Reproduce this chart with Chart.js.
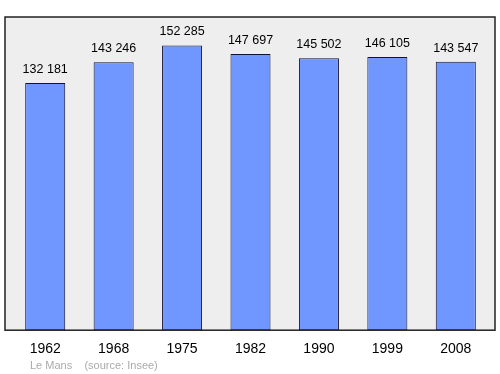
<!DOCTYPE html>
<html>
<head>
<meta charset="utf-8">
<script src="https://cdn.jsdelivr.net/npm/chart.js@4/dist/chart.umd.min.js"></script>
<style>
  html, body { margin: 0; padding: 0; background: #fff; }
  #wrap { width: 500px; height: 374px; position: relative; }
</style>
</head>
<body>
<div id="wrap"><canvas id="chart" width="500" height="374"></canvas></div>
<script>
const years = ['1962', '1968', '1975', '1982', '1990', '1999', '2008'];
const population = [132181, 143246, 152285, 147697, 145502, 146105, 143547];
const footnote = 'Le Mans    (source: Insee)';

function fmt(n) {
  return String(n).replace(/\B(?=(\d{3})+(?!\d))/g, ' ');
}

// frame around the plot, a bit wider than the category area
const boxPlugin = {
  id: 'box',
  beforeDraw(chart) {
    const c = chart.ctx, a = chart.chartArea;
    c.save();
    c.fillStyle = '#eeeeee';
    c.fillRect(a.left - 6, a.top, a.right - a.left + 11, a.bottom - a.top);
    c.restore();
  },
  afterDatasetsDraw(chart) {
    const c = chart.ctx, a = chart.chartArea;
    c.save();
    c.strokeStyle = '#222';
    c.lineWidth = 1.5;
    c.strokeRect(a.left - 6, a.top, a.right - a.left + 11, a.bottom - a.top);
    // value labels
    c.fillStyle = '#000';
    c.font = '12.5px "Liberation Sans", Arial, sans-serif';
    c.textAlign = 'center';
    c.textBaseline = 'alphabetic';
    chart.getDatasetMeta(0).data.forEach((bar, i) => {
      c.fillText(fmt(population[i]), bar.x, bar.y - 10);
    });
    // footnote
    c.fillStyle = '#aaaaaa';
    c.font = '11px "Liberation Sans", Arial, sans-serif';
    c.textAlign = 'left';
    c.fillText(footnote, 30, 369);
    c.restore();
  }
};

new Chart(document.getElementById('chart').getContext('2d'), {
  type: 'bar',
  data: {
    labels: years,
    datasets: [{
      data: population,
      backgroundColor: '#7096ff',
      borderColor: '#111133',
      borderWidth: 1,
      borderSkipped: false,
      categoryPercentage: 1,
      barPercentage: 0.585
    }]
  },
  options: {
    responsive: false,
    animation: false,
    events: [],
    layout: { padding: { left: 11, right: 10, top: 17, bottom: 13 } },
    plugins: { legend: { display: false }, tooltip: { enabled: false } },
    scales: {
      x: {
        grid: { display: false },
        border: { display: false },
        ticks: { color: '#000', font: { size: 14, family: '"Liberation Sans", Arial, sans-serif' }, padding: 3 }
      },
      y: {
        display: false,
        min: 0,
        max: Math.max(...population) * 1.1
      }
    }
  },
  plugins: [boxPlugin]
});
</script>
</body>
</html>
